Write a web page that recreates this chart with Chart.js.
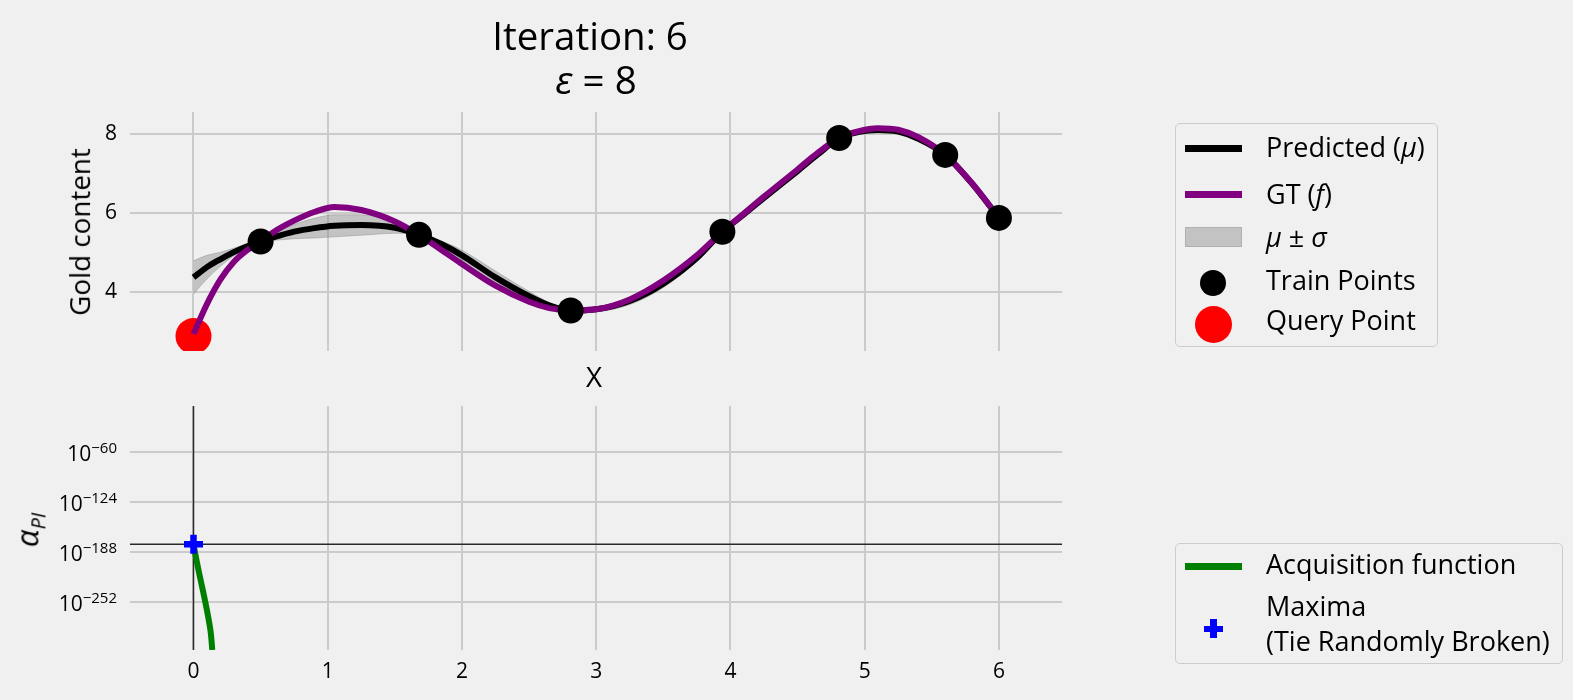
<!DOCTYPE html>
<html>
<head>
<meta charset="utf-8">
<script src="https://cdn.jsdelivr.net/npm/chart.js@4.4.1/dist/chart.umd.min.js"></script>
<style>
  body { margin: 0; background: #f0f0f0; font-family: "Open Sans", sans-serif; }
  #wrap { position: relative; width: 1573px; height: 700px; overflow: hidden; background: #f0f0f0; }
  canvas { position: absolute; left: 0; top: 0; }
  .txt { position: absolute; color: #000; white-space: nowrap; line-height: 1; transform: translate(-50%, -50%); }
  .rot { transform: translate(-50%, -50%) rotate(-90deg); }
  .lab { position: absolute; left: 1266px; font-size: 27px; line-height: 34px; white-space: nowrap; }
  .box { position: absolute; box-sizing: border-box; border: 1px solid #cccccc; border-radius: 5px; }
  .sw { position: absolute; }
</style>
</head>
<body>
<div id="wrap">
  <canvas id="top" width="1573" height="700"></canvas>
  <canvas id="bottom" width="1573" height="700"></canvas>

  <div class="txt" style="left:590px; top:35px; font-size:38.5px;">Iteration: 6</div>
  <div class="txt" style="left:596px; top:79px; font-size:38.5px;"><i>ε</i> = 8</div>
  <div class="txt" style="left:594px; top:377px; font-size:27.8px;">X</div>
  <div class="txt rot" style="left:80px; top:232px; font-size:27.8px;">Gold content</div>
  <div class="txt rot" style="left:30px; top:530px; font-size:31px;"><i>α</i><sub style="font-size:20px"><i>PI</i></sub></div>

  <!-- legend top -->
  <div class="box" style="left:1175px; top:123px; width:263px; height:224px;"></div>
  <div class="sw" style="left:1185px; top:144.5px; width:57px; height:7px; background:#000;"></div>
  <div class="lab" style="top:130px;">Predicted (<i>μ</i>)</div>
  <div class="sw" style="left:1185px; top:190.5px; width:57px; height:7px; background:#800080;"></div>
  <div class="lab" style="top:177px;">GT (<i>f</i>)</div>
  <div class="sw" style="left:1185px; top:227px; width:57px; height:20px; background:#c3c3c3; box-sizing:border-box; border:1px solid #b0b0b0;"></div>
  <div class="lab" style="top:220px;"><i>μ</i> ± <i>σ</i></div>
  <div class="sw" style="left:1200px; top:270px; width:26px; height:26px; border-radius:50%; background:#000;"></div>
  <div class="lab" style="top:263px;">Train Points</div>
  <div class="sw" style="left:1194.5px; top:305.5px; width:37px; height:37px; border-radius:50%; background:#ff0000;"></div>
  <div class="lab" style="top:303px;">Query Point</div>

  <!-- legend bottom -->
  <div class="box" style="left:1175px; top:543px; width:388px; height:121px;"></div>
  <div class="sw" style="left:1185px; top:562.5px; width:57px; height:7px; background:#008000;"></div>
  <div class="lab" style="top:547px;">Acquisition function</div>
  <div class="sw" style="left:1204px; top:625.5px; width:19px; height:6.5px; background:#0000ff;"></div>
  <div class="sw" style="left:1210.25px; top:619px; width:6.5px; height:19px; background:#0000ff;"></div>
  <div class="lab" style="top:589px;">Maxima</div>
  <div class="lab" style="top:624px;">(Tie Randomly Broken)</div>
</div>

<script>
// x grid of the GP curves
const xs = [0, 0.1, 0.2, 0.3, 0.4, 0.5, 0.6, 0.75, 0.9, 1.05, 1.25, 1.5, 1.68, 1.85, 2.0, 2.25, 2.5, 2.65, 2.81,
  3.0, 3.25, 3.5, 3.75, 3.94, 4.1, 4.25, 4.5, 4.65, 4.81, 4.95, 5.1, 5.25, 5.4, 5.6, 5.8, 6.0];
// ground truth f
const gtY = [2.92, 3.68, 4.30, 4.75, 5.05, 5.27, 5.52, 5.80, 6.02, 6.15, 6.07, 5.78, 5.44, 5.05, 4.70, 4.15, 3.74, 3.58, 3.52,
  3.55, 3.80, 4.28, 4.92, 5.52, 5.98, 6.41, 7.10, 7.52, 7.90, 8.07, 8.15, 8.11, 7.92, 7.47, 6.75, 5.87];
// predicted mean
const muY = [4.36, 4.62, 4.82, 5.00, 5.15, 5.27, 5.38, 5.52, 5.61, 5.67, 5.69, 5.62, 5.44, 5.20, 4.92, 4.36, 3.88, 3.65, 3.52,
  3.55, 3.76, 4.20, 4.85, 5.52, 5.96, 6.38, 7.06, 7.48, 7.90, 8.05, 8.10, 8.06, 7.88, 7.47, 6.74, 5.87];
// predicted std
const sigma = [0.42, 0.30, 0.18, 0.10, 0.05, 0, 0.08, 0.18, 0.25, 0.28, 0.26, 0.14, 0, 0.08, 0.13, 0.16, 0.12, 0.07, 0,
  0.05, 0.09, 0.10, 0.07, 0, 0.04, 0.06, 0.06, 0.04, 0, 0.04, 0.06, 0.05, 0.03, 0, 0.03, 0];

const trainX = [0.5, 1.68, 2.81, 3.94, 4.81, 5.6, 6.0];
const trainY = [5.27, 5.44, 3.52, 5.52, 7.90, 7.47, 5.87];
const queryX = [0];
const queryY = [2.87];

// acquisition function, stored as log10 values
const acqX = [0, 0.02, 0.04, 0.06, 0.08, 0.10, 0.12, 0.13, 0.14];
const acqLog = [-177.8, -196, -213, -229, -245, -262, -281, -293, -313];
const maxX = 0;
const maxLog = -177.8;

const xTicks = [0, 1, 2, 3, 4, 5, 6];
const goldTicks = [4, 6, 8];
const acqTicks = [-60, -124, -188, -252];

const X_MIN = -0.473, X_MAX = 6.47;
const ACQ_MIN = -313, ACQ_MAX = -1;

const pts = (xa, ya) => xa.map((x, i) => ({ x: x, y: ya[i] }));
const upper = muY.map((m, i) => m + sigma[i]);
const lower = muY.map((m, i) => m - sigma[i]);

Chart.defaults.font.family = '"Open Sans", sans-serif';
Chart.defaults.color = '#000';

const gridStyle = { color: '#cbcbcb', lineWidth: 2, drawTicks: false };

new Chart(document.getElementById('top'), {
  type: 'line',
  data: {
    datasets: [
      { data: pts(queryX, queryY), showLine: false, pointRadius: 18, pointHoverRadius: 18,
        pointBackgroundColor: '#ff0000', pointBorderWidth: 0, order: 6, clip: 0 },
      { data: pts(xs, lower), borderColor: 'rgba(128,128,128,0.4)', borderWidth: 1, pointRadius: 0,
        fill: false, order: 5, cubicInterpolationMode: 'monotone' },
      { data: pts(xs, upper), borderColor: 'rgba(128,128,128,0.4)', borderWidth: 1, pointRadius: 0,
        fill: '-1', backgroundColor: 'rgba(128,128,128,0.4)', order: 5, cubicInterpolationMode: 'monotone' },
      { data: pts(xs, muY), borderColor: '#000', borderWidth: 6, pointRadius: 0, order: 4,
        cubicInterpolationMode: 'monotone' },
      { data: pts(xs, gtY), borderColor: '#800080', borderWidth: 6, pointRadius: 0, order: 3,
        cubicInterpolationMode: 'monotone' },
      { data: pts(trainX, trainY), showLine: false, pointRadius: 13, pointHoverRadius: 13,
        pointBackgroundColor: '#000', pointBorderWidth: 0, order: 2 }
    ]
  },
  options: {
    responsive: false,
    animation: false,
    events: [],
    layout: { padding: { left: 0, top: 112, right: 511, bottom: 349 } },
    plugins: { legend: { display: false }, tooltip: { enabled: false } },
    scales: {
      x: {
        type: 'linear', min: X_MIN, max: X_MAX,
        border: { display: false }, grid: gridStyle,
        ticks: { display: false },
        afterBuildTicks: s => { s.ticks = xTicks.map(v => ({ value: v })); },
        afterFit: s => { s.height = 0; }
      },
      y: {
        min: 2.49, max: 8.56,
        border: { display: false }, grid: gridStyle,
        ticks: { padding: 13, font: { size: 21 } },
        afterBuildTicks: s => { s.ticks = goldTicks.map(v => ({ value: v })); },
        afterFit: s => { s.width = 130; }
      }
    }
  }
});

// draws 10^n labels with a raised exponent
const expLabels = {
  id: 'expLabels',
  afterDraw(chart) {
    const s = chart.scales.y, ctx = chart.ctx;
    const right = s.right - 13;
    ctx.save();
    ctx.fillStyle = '#000';
    ctx.textBaseline = 'alphabetic';
    s.ticks.forEach(t => {
      const y = s.getPixelForValue(t.value);
      const exp = '\u2212' + Math.abs(t.value);
      ctx.font = '15px "Open Sans"';
      const ew = ctx.measureText(exp).width;
      ctx.textAlign = 'left';
      ctx.fillText(exp, right - ew, y + 1);
      ctx.font = '21px "Open Sans"';
      ctx.textAlign = 'right';
      ctx.fillText('10', right - ew, y + 9);
    });
    ctx.restore();
  }
};

new Chart(document.getElementById('bottom'), {
  type: 'line',
  data: {
    datasets: [
      { data: [{ x: X_MIN, y: maxLog }, { x: X_MAX, y: maxLog }], borderColor: '#2a2a2a', borderWidth: 1.5,
        pointRadius: 0, order: 4, clip: 4 },
      { data: [{ x: maxX, y: ACQ_MIN }, { x: maxX, y: ACQ_MAX }], borderColor: '#2a2a2a', borderWidth: 1.5,
        pointRadius: 0, order: 4, clip: 4 },
      { data: pts(acqX, acqLog), borderColor: '#008000', borderWidth: 6, pointRadius: 0, order: 2,
        cubicInterpolationMode: 'monotone', clip: 0 },
      { data: [{ x: maxX, y: maxLog }], showLine: false, pointStyle: 'cross', pointRadius: 9.5,
        pointHoverRadius: 9.5, pointBorderWidth: 6.5, pointBorderColor: '#0000ff', order: 1 }
    ]
  },
  options: {
    responsive: false,
    animation: false,
    events: [],
    layout: { padding: { left: 0, top: 406, right: 511, bottom: 0 } },
    plugins: { legend: { display: false }, tooltip: { enabled: false } },
    scales: {
      x: {
        type: 'linear', min: X_MIN, max: X_MAX,
        border: { display: false }, grid: gridStyle,
        ticks: { padding: 9, font: { size: 21 } },
        afterBuildTicks: s => { s.ticks = xTicks.map(v => ({ value: v })); },
        afterFit: s => { s.height = 50; }
      },
      y: {
        min: ACQ_MIN, max: ACQ_MAX,
        border: { display: false }, grid: gridStyle,
        ticks: { display: false },
        afterBuildTicks: s => { s.ticks = acqTicks.map(v => ({ value: v })); },
        afterFit: s => { s.width = 130; }
      }
    }
  },
  plugins: [expLabels]
});
</script>
</body>
</html>
